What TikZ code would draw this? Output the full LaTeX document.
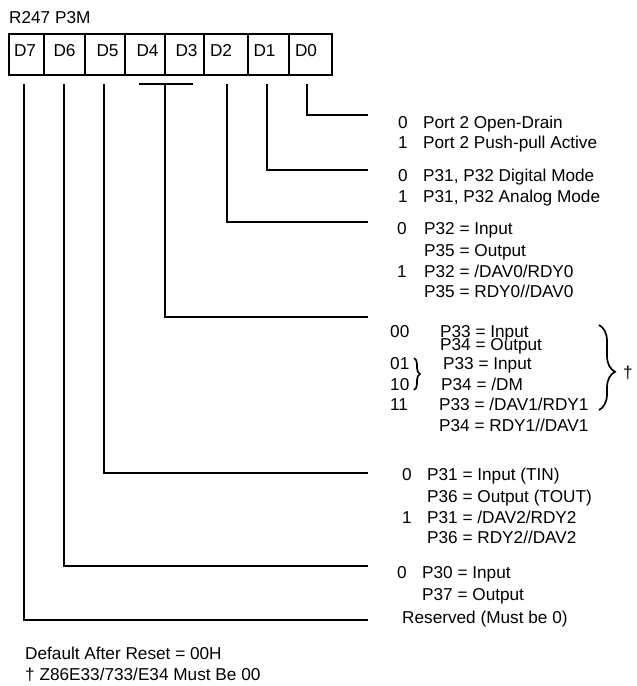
\documentclass[tikz,border=0pt]{standalone}
\usepackage{fontspec}
\setmainfont{Liberation Sans}
\usetikzlibrary{decorations.pathreplacing}
\begin{document}
\begin{tikzpicture}[x=1pt,y=-1pt,
  txt/.style={anchor=base west,inner sep=0pt,font=\fontsize{17.2}{20}\selectfont},
  bitlbl/.style={anchor=base,inner sep=0pt,font=\fontsize{17.2}{20}\selectfont},
  wire/.style={line width=2.1pt},
  frame/.style={line width=1.4pt},
  divider/.style={line width=2pt},
  bracestyle/.style={line width=1.7pt,decorate,decoration={brace,amplitude=#1}}]
\useasboundingbox (0,0) rectangle (637,686);

% title
\node[txt] (title) at (9,23) {R247 P3M};

% register box
\draw[frame] (9,34) rectangle (332,75);
\foreach \x in {44,85,125,165,204,248,289}
  \draw[divider] (\x,34) -- (\x,75);
\node[bitlbl] (b7) at (25,56.6) {D7};
\node[bitlbl] (b6) at (64.5,56.6) {D6};
\node[bitlbl] (b5) at (107.5,56.6) {D5};
\node[bitlbl] (b4) at (147.5,56.6) {D4};
\node[bitlbl] (b3) at (186.5,56.6) {D3};
\node[bitlbl] (b2) at (221,56.6) {D2};
\node[bitlbl] (b1) at (264.5,56.6) {D1};
\node[bitlbl] (b0) at (306,56.6) {D0};

% start and end points of connectors
\coordinate (s7) at (24,84);
\coordinate (s6) at (64,84);
\coordinate (s5) at (104,84);
\coordinate (s43) at (165,84);
\coordinate (s43l) at (139,84);
\coordinate (s43r) at (193,84);
\coordinate (s2) at (227,84);
\coordinate (s1) at (267,84);
\coordinate (s0) at (307,84);
\coordinate (e0) at (368,115);
\coordinate (e1) at (368,170);
\coordinate (e2) at (368,222);
\coordinate (e43) at (368,317);
\coordinate (e5) at (368,473);
\coordinate (e6) at (368,566);
\coordinate (e7) at (368,620);

\draw[wire] (s43l) -- (s43r);
\draw[wire] (s0) |- (e0);
\draw[wire] (s1) |- (e1);
\draw[wire] (s2) |- (e2);
\draw[wire] (s43) |- (e43);
\draw[wire] (s5) |- (e5);
\draw[wire] (s6) |- (e6);
\draw[wire] (s7) |- (e7);

% D0
\node[txt] (d0a) at (398,128) {0};
\node[txt] (d0at) at (423,128) {Port 2 Open-Drain};
\node[txt] (d0b) at (398,148) {1};
\node[txt] (d0bt) at (423,148) {Port 2 Push-pull Active};
% D1
\node[txt] (d1a) at (398,181) {0};
\node[txt] (d1at) at (423,181) {P31, P32 Digital Mode};
\node[txt] (d1b) at (398,202) {1};
\node[txt] (d1bt) at (423,202) {P31, P32 Analog Mode};
% D2
\node[txt] (d2a) at (397,234) {0};
\node[txt] (d2at) at (424,234) {P32 = Input};
\node[txt] (d2at2) at (424,256) {P35 = Output};
\node[txt] (d2b) at (397,277) {1};
\node[txt] (d2bt) at (424,277) {P32 = /DAV0/RDY0};
\node[txt] (d2bt2) at (424,297) {P35 = RDY0//DAV0};
% D4 D3
\node[txt] (d4a) at (390,337) {00};
\node[txt] (d4at) at (440,337) {P33 = Input};
\node[txt] (d4at2) at (440,350) {P34 = Output};
\node[txt] (d4b) at (390,369) {01};
\node[txt] (d4bt) at (443,369) {P33 = Input};
\node[txt] (d4c) at (390,390) {10};
\node[txt] (d4ct) at (441,390) {P34 = /DM};
\node[txt] (d4d) at (390,410) {11};
\node[txt] (d4dt) at (439,410) {P33 = /DAV1/RDY1};
\node[txt] (d4dt2) at (439,431) {P34 = RDY1//DAV1};
\draw[bracestyle=6pt] (414,358) -- (414,390);
\draw[bracestyle=16pt,decoration={aspect=0.55}] (599,325) -- (599,410);
\node[txt] (dag) at (623,378) {†};
% D5
\node[txt] (d5a) at (402,480) {0};
\node[txt] (d5at) at (427,480) {P31 = Input (TIN)};
\node[txt] (d5at2) at (427,502) {P36 = Output (TOUT)};
\node[txt] (d5b) at (402,523) {1};
\node[txt] (d5bt) at (427,523) {P31 = /DAV2/RDY2};
\node[txt] (d5bt2) at (427,543) {P36 = RDY2//DAV2};
% D6
\node[txt] (d6a) at (397,578) {0};
\node[txt] (d6at) at (422,578) {P30 = Input};
\node[txt] (d6at2) at (422,600) {P37 = Output};
% D7
\node[txt] (d7a) at (402,623) {Reserved (Must be 0)};

% footer
\node[txt] (f1) at (25,659) {Default After Reset = 00H};
\node[txt] (f2) at (25,680) {† Z86E33/733/E34 Must Be 00};
\end{tikzpicture}
\end{document}
